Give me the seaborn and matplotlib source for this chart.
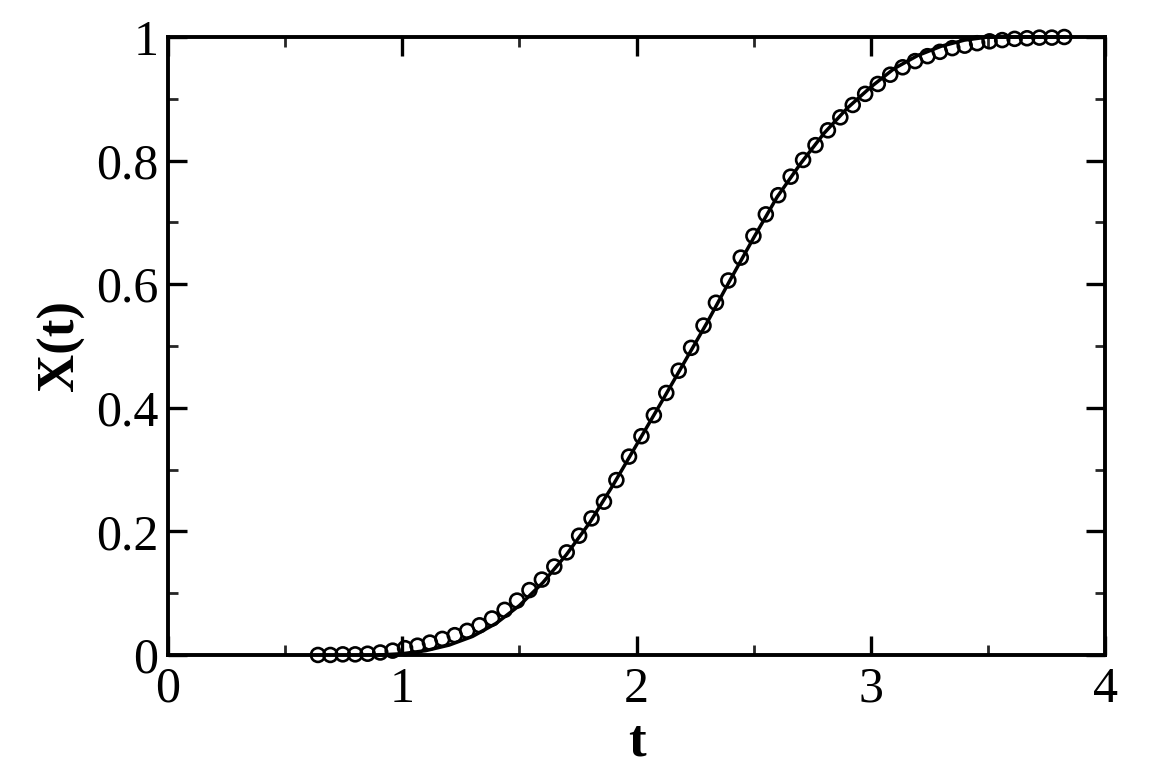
import matplotlib
matplotlib.use("Agg")
import matplotlib.pyplot as plt
import seaborn as sns
import pandas as pd
from matplotlib.ticker import MultipleLocator

# measured points (open circles)
t_data = [0.640, 0.693, 0.746, 0.799, 0.852, 0.906, 0.959, 1.012, 1.065, 1.118,
          1.171, 1.224, 1.277, 1.330, 1.383, 1.437, 1.490, 1.543, 1.596, 1.649,
          1.702, 1.755, 1.808, 1.861, 1.914, 1.968, 2.021, 2.074, 2.127, 2.180,
          2.233, 2.286, 2.339, 2.392, 2.445, 2.499, 2.552, 2.605, 2.658, 2.711,
          2.764, 2.817, 2.870, 2.923, 2.976, 3.030, 3.083, 3.136, 3.189, 3.242,
          3.295, 3.348, 3.401, 3.454, 3.507, 3.561, 3.614, 3.667, 3.720, 3.773,
          3.826]
x_data = [0.000, 0.000, 0.001, 0.001, 0.002, 0.004, 0.007, 0.011, 0.015, 0.020,
          0.026, 0.032, 0.039, 0.048, 0.059, 0.073, 0.088, 0.105, 0.122, 0.143,
          0.166, 0.193, 0.221, 0.248, 0.283, 0.321, 0.354, 0.388, 0.424, 0.460,
          0.497, 0.533, 0.570, 0.606, 0.643, 0.678, 0.713, 0.744, 0.774, 0.801,
          0.825, 0.849, 0.870, 0.890, 0.908, 0.924, 0.939, 0.951, 0.961, 0.969,
          0.976, 0.982, 0.986, 0.990, 0.993, 0.995, 0.997, 0.998, 0.999, 0.999,
          1.000]

# fitted curve (solid line)
t_fit = [0.90, 1.00, 1.10, 1.20, 1.30, 1.40, 1.50, 1.60, 1.70, 1.80, 1.90,
         2.00, 2.10, 2.20, 2.30, 2.40, 2.50, 2.60, 2.70, 2.80, 2.90, 3.00,
         3.10, 3.20, 3.30, 3.40, 3.50, 3.60, 3.83]
x_fit = [0.000, 0.002, 0.007, 0.016, 0.030, 0.051, 0.080, 0.117, 0.162, 0.214,
         0.275, 0.340, 0.405, 0.471, 0.537, 0.607, 0.675, 0.741, 0.795, 0.844,
         0.885, 0.919, 0.949, 0.970, 0.985, 0.995, 1.000, 1.000, 1.000]

x_ticks = [0, 1, 2, 3, 4]
x_ticklabels = ["0", "1", "2", "3", "4"]
y_ticks = [0, 0.2, 0.4, 0.6, 0.8, 1.0]
y_ticklabels = ["0", "0.2", "0.4", "0.6", "0.8", "1"]

df_data = pd.DataFrame({"t": t_data, "X": x_data})
df_fit = pd.DataFrame({"t": t_fit, "X": x_fit})

sns.set_style("ticks")
plt.rcParams["font.family"] = ["Liberation Serif", "DejaVu Serif"]
plt.rcParams["axes.labelcolor"] = "black"
plt.rcParams["text.color"] = "black"

fig = plt.figure(figsize=(11.5, 7.71), dpi=100)
ax = fig.add_axes([0.1461, 0.1505, 0.8148, 0.8015])

sns.lineplot(data=df_fit, x="t", y="X", ax=ax, color="black", linewidth=2.5,
             sort=False, clip_on=False)
sns.scatterplot(data=df_data, x="t", y="X", ax=ax, marker="o", s=100,
                facecolor="none", edgecolor="black", linewidth=1.9,
                clip_on=False, zorder=3)

ax.set_xlim(0, 4)
ax.set_ylim(0, 1)
ax.set_xticks(x_ticks)
ax.set_xticklabels(x_ticklabels)
ax.set_yticks(y_ticks)
ax.set_yticklabels(y_ticklabels)
ax.xaxis.set_minor_locator(MultipleLocator(0.5))
ax.yaxis.set_minor_locator(MultipleLocator(0.1))

for side in ["top", "right", "bottom", "left"]:
    ax.spines[side].set_visible(True)
    ax.spines[side].set_linewidth(2.8)
    ax.spines[side].set_color("black")

ax.tick_params(which="major", direction="in", length=14, width=2.4,
               top=True, right=True, labelsize=36, colors="black")
ax.tick_params(axis="x", which="major", pad=8)
ax.tick_params(axis="y", which="major", pad=7)
ax.tick_params(which="minor", direction="in", length=7, width=2.0,
               top=True, right=True)

ax.set_xlabel("t", fontsize=38, fontweight="bold", labelpad=4)
ax.set_ylabel("X(t)", fontsize=38, fontweight="bold", labelpad=8)

fig.savefig("out.png", dpi=100, facecolor="white")
